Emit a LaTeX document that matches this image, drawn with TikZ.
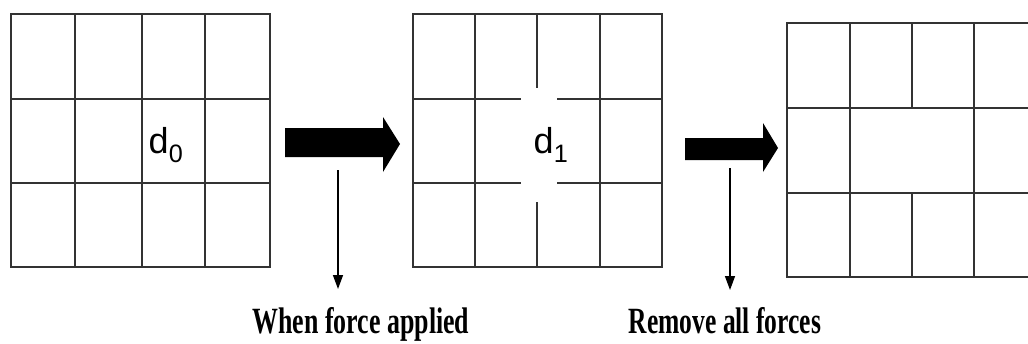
\documentclass[tikz,border=0pt]{standalone}
\usepackage{fontspec}
\setmainfont{Liberation Serif}
\setsansfont{Liberation Sans}
\usepackage{graphicx}
\usetikzlibrary{arrows.meta}

\begin{document}
\begin{tikzpicture}[x=1pt, y=-1pt,
		gridline/.style={draw=black!80, line width=2.4pt},
		fatarr/.style={fill=black},
		thinarr/.style={draw=black, line width=1.4pt, -{Triangle[length=14pt, width=10pt]}},
		dlabel/.style={font=\sffamily\fontsize{36}{36}\selectfont, inner sep=0pt},
		caption/.style={font=\bfseries\fontsize{37}{37}\selectfont, inner sep=0pt, anchor=base},
		]
		\useasboundingbox (0,0) rectangle (1028,343);
		\clip (0,0) rectangle (1028,343);
		% ── Grid 1: initial state ────────────────────────────────────────────────
		\draw[gridline] (11,14) rectangle (270,267);
		\foreach \x in {75,142,205} \draw[gridline] (\x,14) -- (\x,267);
		\foreach \y in {99,183} \draw[gridline] (11,\y) -- (270,\y);
		\node[dlabel] (d0) at (166,145) {d\textsubscript{0}};
		% ── Grid 2: under force (broken around the centre) ───────────────────────
		\draw[gridline] (413,14) rectangle (662,267);
		\foreach \x in {475,600} \draw[gridline] (\x,14) -- (\x,267);
		\draw[gridline] (537,14) -- (537,88);
		\draw[gridline] (537,202) -- (537,267);
		\foreach \y in {99,183} {
			\draw[gridline] (413,\y) -- (521,\y);
			\draw[gridline] (557,\y) -- (662,\y);
		}
		\node[dlabel] (d1) at (551,145) {d\textsubscript{1}};
		% ── Grid 3: after forces removed ─────────────────────────────────────────
		\draw[gridline] (787,23) rectangle (1040,277);
		\foreach \x in {850,974} \draw[gridline] (\x,23) -- (\x,277);
		\draw[gridline] (912,23) -- (912,108);
		\draw[gridline] (912,193) -- (912,277);
		\foreach \y in {108,193} \draw[gridline] (787,\y) -- (1040,\y);
		% ── Fat arrows ───────────────────────────────────────────────────────────
		\fill[fatarr] (285,128) -- (383,128) -- (383,117) -- (400,144)
		-- (383,172) -- (383,157) -- (285,157) -- cycle;
		\fill[fatarr] (685,138) -- (763,138) -- (763,123) -- (778,148)
		-- (763,172) -- (763,160) -- (685,160) -- cycle;
		% ── Captions and pointers ────────────────────────────────────────────────
		\node[caption] (cap1) at (361,333) {\scalebox{0.70}[1]{When force applied}};
		\node[caption] (cap2) at (725,333) {\scalebox{0.69}[1]{Remove all forces}};
		\coordinate (p1) at (338,170);
		\coordinate (q1) at (338,289);
		\coordinate (p2) at (730,168);
		\coordinate (q2) at (730,290);
		\draw[thinarr] (p1) -- (q1);
		\draw[thinarr] (p2) -- (q2);
	\end{tikzpicture}
\end{document}
